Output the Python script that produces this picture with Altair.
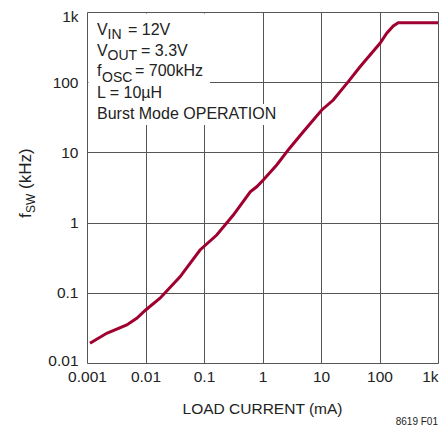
import altair as alt
import pandas as pd

# ---- data ----
load_ma = [0.001125, 0.00217, 0.00478, 0.00708, 0.01007, 0.0177, 0.0389, 0.0855,
           0.165, 0.317, 0.618, 0.796, 1.03, 1.75, 2.84, 4.98, 10.3, 16.2, 29.3,
           46.5, 102, 133, 172, 209, 1000]
fsw_khz = [0.0191, 0.0265, 0.0348, 0.0434, 0.0569, 0.0836, 0.169, 0.407,
           0.665, 1.28, 2.75, 3.24, 4.05, 6.62, 11.2, 19.7, 40.2, 55.7, 102,
           166, 358, 498, 632, 705, 705]

x_tick_vals = [0.001, 0.01, 0.1, 1, 10, 100, 1000]
x_tick_labels = ["0.001", "0.01", "0.1", "1", "10", "100", "1k"]
y_tick_vals = [0.01, 0.1, 1, 10, 100, 1000]
y_tick_labels = ["0.01", "0.1", "1", "10", "100", "1k"]

x_title = "LOAD CURRENT (mA)"
y_title_parts = ["f", "SW", "(kHz)"]
note_main = ["V", "V", "f", "L = 10µH", "Burst Mode OPERATION"]
note_sub = ["IN", "OUT", "OSC"]
note_rest = ["= 12V", "= 3.3V", "= 700kHz"]
footnote = "8619 F01"

LINE_COLOR = "#a00030"
GRID_COLOR = "#555555"
TEXT_COLOR = "#222222"
FONT = "Liberation Sans"

W, H = 351, 351

df = pd.DataFrame({"load": load_ma, "fsw": fsw_khz})


def label_expr(vals, labels):
    parts = []
    for v, l in zip(vals, labels):
        parts.append(f"abs(datum.value - {v}) < {v}*0.01 ? '{l}'")
    return " : ".join(parts) + " : ''"


xscale = alt.Scale(type="log", domain=[0.001, 1000], nice=False)
yscale = alt.Scale(type="log", domain=[0.01, 1000], nice=False)

x_axis = alt.Axis(values=x_tick_vals, labelExpr=label_expr(x_tick_vals, x_tick_labels),
                  grid=True, gridColor=GRID_COLOR, gridWidth=1, gridOpacity=1,
                  ticks=False, domain=False, labelFont=FONT, labelFontSize=15.5,
                  labelColor=TEXT_COLOR, labelPadding=6, labelFlush=False,
                  labelAlign=alt.ExprRef("datum.value >= 999 ? 'right' : 'center'"),
                  title=None)
y_axis = alt.Axis(values=y_tick_vals, labelExpr=label_expr(y_tick_vals, y_tick_labels),
                  grid=True, gridColor=GRID_COLOR, gridWidth=1, gridOpacity=1,
                  ticks=False, domain=False, labelFont=FONT, labelFontSize=15.5,
                  labelColor=TEXT_COLOR, labelPadding=9, labelFlush=False,
                  labelOffset=alt.ExprRef(
                      "datum.value >= 999 ? 4.5 : (datum.value < 0.011 ? -2.5 : 0)"),
                  title=None)

one = alt.Data(values=[{"a": 1}])

base = alt.Chart(df).mark_line(color=LINE_COLOR, strokeWidth=3, clip=True).encode(
    x=alt.X("load:Q", scale=xscale, axis=x_axis),
    y=alt.Y("fsw:Q", scale=yscale, axis=y_axis),
)

# white masks behind the annotation block (the reference erases grid there)
mask1 = alt.Chart(one).mark_rect(color="white").encode(
    x=alt.value(1.5), x2=alt.value(123), y=alt.value(1.5), y2=alt.value(113))
mask2 = alt.Chart(one).mark_rect(color="white").encode(
    x=alt.value(1.5), x2=alt.value(194), y=alt.value(92), y2=alt.value(113))


def txt(s, x, y, size, angle=0, align="left"):
    return alt.Chart(one).mark_text(text=s, font=FONT, fontSize=size, color=TEXT_COLOR,
                                    align=align, baseline="alphabetic", angle=angle).encode(
        x=alt.value(x), y=alt.value(y))


notes = [
    txt(note_main[0], 10, 23, 16), txt(note_sub[0], 20.5, 26.5, 14), txt(note_rest[0], 41, 23, 16),
    txt(note_main[1], 10, 44, 16), txt(note_sub[1], 20.5, 48, 14), txt(note_rest[1], 54, 44, 16),
    txt(note_main[2], 10, 64, 16), txt(note_sub[2], 15, 70, 14), txt(note_rest[2], 48, 64, 16),
    txt(note_main[3], 10, 86, 16),
    txt(note_main[4], 10, 107, 16),
]

ytitle = [
    txt(y_title_parts[0], -56, 206, 17, angle=270),
    txt(y_title_parts[1], -52, 201, 12, angle=270),
    txt(y_title_parts[2], -56, 177, 17, angle=270),
]

xtitle = txt(x_title, W / 2, 402, 15.5, align="center")
foot = txt(footnote, 351, 413, 10, align="right")

chart = alt.layer(mask1, mask2, base, *notes, *ytitle, xtitle, foot).properties(
    width=W, height=H,
    autosize=alt.AutoSizeParams(type="none"),
    padding={"left": 79, "top": 4, "right": 1, "bottom": 63},
).configure_view(stroke="black", strokeWidth=2).configure(background="white")

chart.save("out.html", embed_options={"renderer": "svg", "actions": False})
